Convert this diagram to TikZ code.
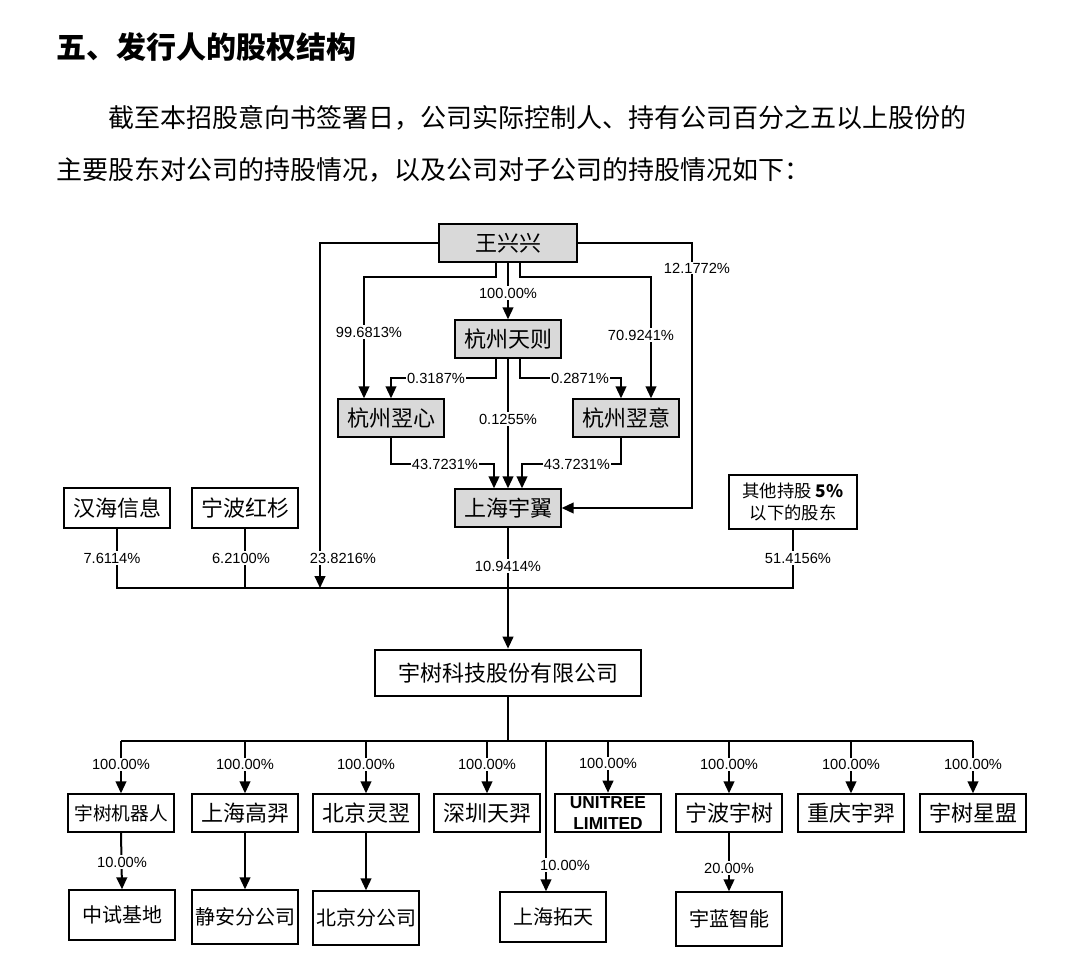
\documentclass[tikz,border=0pt]{standalone}
\usepackage{fontspec}
\setmainfont{Liberation Sans}
\newfontfamily\cjk{Noto Sans CJK SC}
\usetikzlibrary{arrows.meta, positioning, calc}
\definecolor{boxgray}{RGB}{217,217,217}

\begin{document}
\begin{tikzpicture}[x=0.75pt, y=-0.75pt, line width=1.5pt,
    >={Triangle[length=9pt,width=8pt]},
    box/.style={draw, line width=1.5pt, minimum width=79pt, minimum height=28pt, inner sep=2pt, font=\cjk\fontsize{16.5}{18}\selectfont},
    gbox/.style={box, fill=boxgray},
    pct/.style={fill=white, inner sep=1pt, font=\fontsize{11}{12}\selectfont}]
        \useasboundingbox (0,0) rectangle (1066,980);

        % Heading and text
        \node[anchor=west, inner sep=0pt, font=\cjk\bfseries\fontsize{22.5}{24}\selectfont] (title) at (55,47) {五、发行人的股权结构};
        \node[anchor=west, inner sep=0pt, font=\cjk\fontsize{19.5}{22}\selectfont] (line1) at (107,118) {截至本招股意向书签署日，公司实际控制人、持有公司百分之五以上股份的};
        \node[anchor=west, inner sep=0pt, font=\cjk\fontsize{19.5}{22}\selectfont] (line2) at (55,170) {主要股东对公司的持股情况，以及公司对子公司的持股情况如下：};

        % Shareholders
        \node[gbox, minimum width=104pt] (wxx) at (508,243) {王兴兴};
        \node[gbox] (tz) at (508,339) {杭州天则};
        \node[gbox] (yx) at (391,418) {杭州翌心};
        \node[gbox] (yy) at (626,418) {杭州翌意};
        \node[gbox] (shyy) at (508,508) {上海宇翼};
        \node[box, minimum height=30pt] (hhxx) at (117,508) {汉海信息};
        \node[box, minimum height=30pt] (nbhs) at (245,508) {宁波红杉};
        \node[box, minimum width=96pt, minimum height=40pt, align=center, font=\cjk\fontsize{13}{16}\selectfont] (qt) at (793,502) {其他持股 \textbf{5\%}\\以下的股东};

        % Company
        \node[box, minimum width=199pt, minimum height=35pt] (ys) at (508,673) {宇树科技股份有限公司};

        % Subsidiaries
        \node[box, font=\cjk\fontsize{14}{16}\selectfont] (jqr) at (121,813) {宇树机器人};
        \node[box] (shgy) at (245,813) {上海高羿};
        \node[box] (bjly) at (366,813) {北京灵翌};
        \node[box] (szty) at (487,813) {深圳天羿};
        \node[box, align=center, font=\bfseries\fontsize{13}{16}\selectfont] (unitree) at (608,813) {UNITREE\\LIMITED};
        \node[box] (nbys) at (729,813) {宁波宇树};
        \node[box] (cqyy) at (851,813) {重庆宇羿};
        \node[box] (xm) at (973,813) {宇树星盟};
        \node[box, minimum height=37pt, font=\cjk\fontsize{15}{17}\selectfont] (zsjd) at (122,915) {中试基地};
        \node[box, minimum height=40pt, font=\cjk\fontsize{15}{17}\selectfont] (jafgs) at (245,917) {静安分公司};
        \node[box, minimum height=40pt, font=\cjk\fontsize{15}{17}\selectfont] (bjfgs) at (366,918) {北京分公司};
        \node[box, minimum height=37pt, font=\cjk\fontsize{15}{17}\selectfont] (shtt) at (553,917) {上海拓天};
        \node[box, minimum height=40pt, font=\cjk\fontsize{15}{17}\selectfont] (ylzn) at (729,919) {宇蓝智能};

        % Bends and bus points
        \coordinate (busL) at (320,588);
        \coordinate (wR) at (692,243);
        \coordinate (wl) at (364,277);
        \coordinate (wr) at (651,277);
        \coordinate (tl) at (391,378);
        \coordinate (tr) at (621,378);
        \coordinate (yxb) at (494,464);
        \coordinate (yyb) at (522,464);
        \coordinate (busM) at (508,588);
        \coordinate (bus2) at (508,741);
        \coordinate (bus2t) at (546,741);

        % Upper connectors
        \draw[->] (wxx.west) -| (busL);
        \draw[->] (wxx.east) -- (wR) |- (shyy.east);
        \draw[->] ([shift={(-12,0)}]wxx.south) |- (wl) -- ([shift={(-27,0)}]yx.north);
        \draw[->] (wxx.south) -- (tz.north);
        \draw[->] ([shift={(12,0)}]wxx.south) |- (wr) -- ([shift={(25,0)}]yy.north);
        \draw[->] ([shift={(-12,0)}]tz.south) |- (tl) -- (yx.north);
        \draw[->] ([shift={(12,0)}]tz.south) |- (tr) -- ([shift={(-5,0)}]yy.north);
        \draw[->] (tz.south) -- (shyy.north);
        \draw[->] (yx.south) |- (yxb) -- ([shift={(-14,0)}]shyy.north);
        \draw[->] ([shift={(-5,0)}]yy.south) |- (yyb) -- ([shift={(14,0)}]shyy.north);

        % Labels
        \node[pct] at (369,332) {99.6813\%};
        \node[pct] at (508,293) {100.00\%};
        \node[pct] at (641,335) {70.9241\%};
        \node[pct] at (697,268) {12.1772\%};
        \node[pct] at (436,378) {0.3187\%};
        \node[pct] at (580,378) {0.2871\%};
        \node[pct] at (508,419) {0.1255\%};
        \node[pct] at (445,464) {43.7231\%};
        \node[pct] at (577,464) {43.7231\%};

        % Shareholder bus
        \draw (hhxx.south) |- (qt.south |- busM) -- (qt.south);
        \draw (nbhs.south) -- (nbhs.south |- busM);
        \draw (shyy.south) -- (busM);
        \draw[->] (busM) -- (ys.north);
        \node[pct] at (112,558) {7.6114\%};
        \node[pct] at (241,558) {6.2100\%};
        \node[pct] at (343,558) {23.8216\%};
        \node[pct] at (508,566) {10.9414\%};
        \node[pct] at (798,558) {51.4156\%};

        % Subsidiary bus
        \draw[line width=2.2pt] (ys.south) -- (bus2);
        \draw (jqr.north |- bus2) -- (xm.north |- bus2);
        \foreach \s in {jqr, shgy, bjly, szty, unitree, nbys, cqyy, xm} {
            \draw[->] (\s.north |- bus2) -- (\s.north);
            \node[pct] at ($(\s.north)+(0,-29)$) {100.00\%};
        }
        \draw[->] (bus2t) -- (bus2t |- shtt.north);
        \node[pct] at (565,865) {10.00\%};
        \draw[->] (jqr.south) -- (zsjd.north);
        \node[pct] at (122,862) {10.00\%};
        \draw[->] (shgy.south) -- (jafgs.north);
        \draw[->] (bjly.south) -- (bjfgs.north);
        \draw[->] (nbys.south) -- (ylzn.north);
        \node[pct] at (729,868) {20.00\%};
\end{tikzpicture}
\end{document}
